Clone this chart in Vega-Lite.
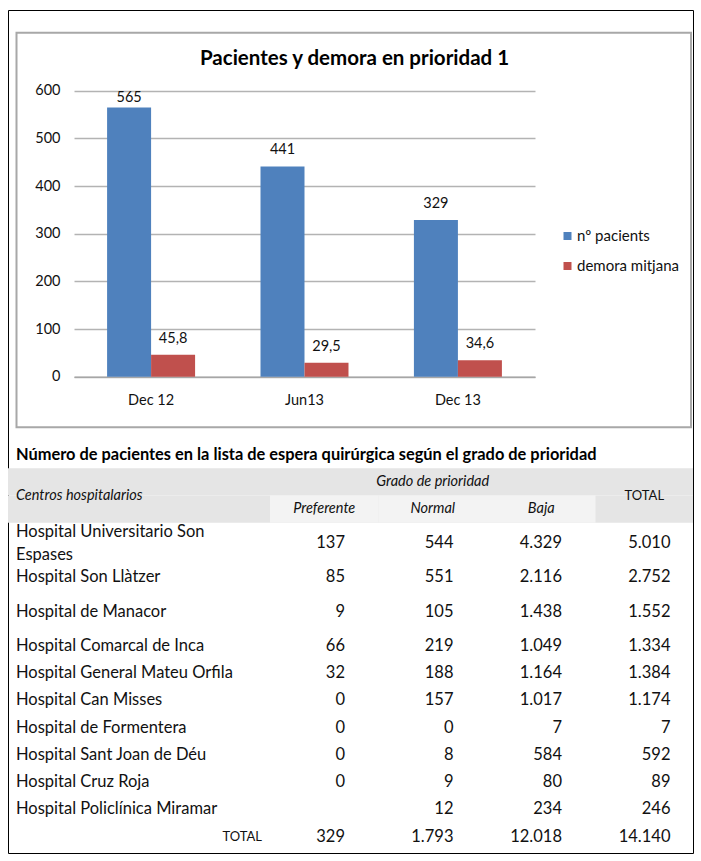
{
  "$schema": "https://vega.github.io/schema/vega-lite/v6.json",
  "width": 685,
  "height": 843,
  "autosize": {"type": "none"},
  "padding": {"left": 8, "top": 10, "right": 8, "bottom": 8},
  "background": "white",
  "config": {
    "view": {"stroke": "#000000", "strokeWidth": 1},
    "locale": {"number": {"decimal": ",", "thousands": ".", "grouping": [3], "currency": ["", " €"]}},
    "text": {"font": "Lato", "color": "#111111"}
  },
  "title": {
    "text": "Pacientes y demora en prioridad 1",
    "anchor": "middle",
    "frame": "group",
    "offset": -69,
    "baseline": "middle",
    "dx": 4,
    "font": "Lato",
    "fontSize": 20.5,
    "fontWeight": "bold",
    "color": "#000000"
  },
  "datasets": {
    "centros": [
      {"row": "r1", "centro": "Hospital Universitario Son\nEspases", "Preferente": 137, "Normal": 544, "Baja": 4329, "TOTAL": 5010},
      {"row": "r2", "centro": "Hospital Son Llàtzer", "Preferente": 85, "Normal": 551, "Baja": 2116, "TOTAL": 2752},
      {"row": "r3", "centro": "Hospital de Manacor", "Preferente": 9, "Normal": 105, "Baja": 1438, "TOTAL": 1552},
      {"row": "r4", "centro": "Hospital Comarcal de Inca", "Preferente": 66, "Normal": 219, "Baja": 1049, "TOTAL": 1334},
      {"row": "r5", "centro": "Hospital General Mateu Orfila", "Preferente": 32, "Normal": 188, "Baja": 1164, "TOTAL": 1384},
      {"row": "r6", "centro": "Hospital Can Misses", "Preferente": 0, "Normal": 157, "Baja": 1017, "TOTAL": 1174},
      {"row": "r7", "centro": "Hospital de Formentera", "Preferente": 0, "Normal": 0, "Baja": 7, "TOTAL": 7},
      {"row": "r8", "centro": "Hospital Sant Joan de Déu", "Preferente": 0, "Normal": 8, "Baja": 584, "TOTAL": 592},
      {"row": "r9", "centro": "Hospital Cruz Roja", "Preferente": 0, "Normal": 9, "Baja": 80, "TOTAL": 89},
      {"row": "r10", "centro": "Hospital Policlínica Miramar", "Preferente": null, "Normal": 12, "Baja": 234, "TOTAL": 246},
      {"row": "total", "centro": "TOTAL", "Preferente": 329, "Normal": 1793, "Baja": 12018, "TOTAL": 14140}
    ]
  },
  "resolve": {"scale": {"x": "independent", "y": "independent", "color": "independent"}, "axis": {"x": "independent", "y": "independent"}},
  "layer": [
    {
      "data": {"values": [{"frame": "chart"}]},
      "mark": {"type": "rect", "filled": false, "color": "#a8a8a8", "strokeWidth": 2},
      "encoding": {
        "x": {"datum": 0, "type": "quantitative", "scale": {"domain": [0, 1], "range": [8.5, 683], "nice": false, "zero": false}, "axis": null},
        "x2": {"datum": 1},
        "y": {"datum": 0, "type": "quantitative", "scale": {"domain": [0, 1], "range": [22.7, 417.3], "nice": false, "zero": false}, "axis": null},
        "y2": {"datum": 1}
      }
    },
    {
      "data": {"values": [
        {"period": "Dec 12", "series": "nº pacients", "value": 565},
        {"period": "Dec 12", "series": "demora mitjana", "value": 45.8},
        {"period": "Jun13", "series": "nº pacients", "value": 441},
        {"period": "Jun13", "series": "demora mitjana", "value": 29.5},
        {"period": "Dec 13", "series": "nº pacients", "value": 329},
        {"period": "Dec 13", "series": "demora mitjana", "value": 34.6}
      ]},
      "encoding": {
        "x": {
          "field": "period", "type": "nominal", "sort": ["Dec 12", "Jun13", "Dec 13"],
          "scale": {"type": "band", "domain": ["Dec 12", "Jun13", "Dec 13"], "range": [66, 527], "paddingInner": 0.4264, "paddingOuter": 0.2157},
          "axis": {"orient": "bottom", "offset": -476.3, "title": null, "domain": true, "domainColor": "#a6a6a6", "domainWidth": 1.5, "ticks": false, "tickSize": 0, "labelPadding": 17, "labelAngle": 0, "labelFont": "Lato", "labelFontSize": 14.5, "labelColor": "#111111", "grid": false}
        },
        "xOffset": {"field": "series", "type": "nominal", "sort": ["nº pacients", "demora mitjana"], "scale": {"domain": ["nº pacients", "demora mitjana"], "paddingInner": 0, "paddingOuter": 0}},
        "y": {
          "field": "value", "type": "quantitative",
          "scale": {"domain": [0, 600], "range": [366.7, 80.7], "nice": false, "zero": true},
          "axis": {"orient": "left", "offset": -66, "title": null, "values": [0, 100, 200, 300, 400, 500, 600], "domain": false, "ticks": false, "tickSize": 0, "labelPadding": 14, "grid": true, "gridColor": "#b3b3b3", "gridWidth": 1.5, "labelFont": "Lato", "labelFontSize": 14.5, "labelColor": "#111111"}
        }
      },
      "layer": [
        {
          "mark": {"type": "bar"},
          "encoding": {
            "color": {
              "field": "series", "type": "nominal",
              "scale": {"domain": ["nº pacients", "demora mitjana"], "range": ["#4F81BD", "#C0504D"]},
              "legend": {"orient": "none", "legendX": 552, "legendY": 218.5, "title": null, "symbolType": "square", "symbolSize": 64, "symbolStrokeWidth": 0, "labelFont": "Lato", "labelFontSize": 15, "labelColor": "#111111", "labelOffset": 2, "rowPadding": 14, "padding": 0}
            }
          }
        },
        {
          "transform": [{"filter": "datum.value != 565"}],
          "mark": {"type": "text", "dy": -16, "align": "center", "baseline": "middle", "font": "Lato", "fontSize": 14.5},
          "encoding": {"text": {"field": "value", "type": "quantitative", "format": "~g"}}
        },
        {
          "transform": [{"filter": "datum.value == 565"}],
          "mark": {"type": "text", "dy": -9.5, "align": "center", "baseline": "middle", "font": "Lato", "fontSize": 14.5},
          "encoding": {"text": {"field": "value", "type": "quantitative", "format": "~g"}}
        }
      ]
    },
    {
      "resolve": {"scale": {"x": "independent"}},
      "layer": [
        {
          "data": {"values": [{"line": "grado"}, {"line": "sub"}]},
          "mark": {"type": "rect", "color": "#e5e5e5"},
          "encoding": {
            "y": {"field": "line", "type": "nominal", "scale": {"type": "band", "domain": ["title", "grado", "sub", "r1", "r1b", "r2", "r3", "r4", "r5", "r6", "r7", "r8", "r9", "r10", "total"], "range": [430.9, 840.4], "paddingInner": 0, "paddingOuter": 0}, "axis": null}
          }
        },
        {
          "data": {"values": [{"line": "sub", "col": "Preferente"}, {"line": "sub", "col": "Normal"}, {"line": "sub", "col": "Baja"}]},
          "mark": {"type": "rect", "color": "#f3f3f3"},
          "encoding": {
            "x": {"field": "col", "type": "nominal", "scale": {"type": "band", "domain": ["Preferente", "Normal", "Baja", "TOTAL"], "range": [262, 696], "paddingInner": 0, "paddingOuter": 0}, "axis": null},
            "y": {"field": "line", "type": "nominal", "scale": {"type": "band", "domain": ["title", "grado", "sub", "r1", "r1b", "r2", "r3", "r4", "r5", "r6", "r7", "r8", "r9", "r10", "total"], "range": [430.9, 840.4], "paddingInner": 0, "paddingOuter": 0}, "axis": null}
          }
        },
        {
          "data": {"values": [
            {"line": "grado", "col": "Normal", "text": "Grado de prioridad"},
            {"line": "sub", "col": "Preferente", "text": "Preferente"},
            {"line": "sub", "col": "Normal", "text": "Normal"},
            {"line": "sub", "col": "Baja", "text": "Baja"}
          ]},
          "mark": {"type": "text", "align": "center", "baseline": "middle", "font": "Lato", "fontSize": 14.5, "fontStyle": "italic"},
          "encoding": {
            "x": {"field": "col", "type": "nominal", "bandPosition": 0.5, "scale": {"type": "band", "domain": ["Preferente", "Normal", "Baja", "TOTAL"], "range": [262, 696], "paddingInner": 0, "paddingOuter": 0}, "axis": null},
            "y": {"field": "line", "type": "nominal", "scale": {"type": "band", "domain": ["title", "grado", "sub", "r1", "r1b", "r2", "r3", "r4", "r5", "r6", "r7", "r8", "r9", "r10", "total"], "range": [430.9, 840.4], "paddingInner": 0, "paddingOuter": 0}, "axis": null},
            "text": {"field": "text"}
          }
        },
        {
          "data": {"values": [{"line": "grado", "col": "TOTAL", "text": "TOTAL"}]},
          "mark": {"type": "text", "align": "center", "baseline": "middle", "font": "Lato", "fontSize": 13},
          "encoding": {
            "x": {"field": "col", "type": "nominal", "bandPosition": 0.45, "scale": {"type": "band", "domain": ["Preferente", "Normal", "Baja", "TOTAL"], "range": [262, 696], "paddingInner": 0, "paddingOuter": 0}, "axis": null},
            "y": {"field": "line", "type": "nominal", "bandPosition": 1, "scale": {"type": "band", "domain": ["title", "grado", "sub", "r1", "r1b", "r2", "r3", "r4", "r5", "r6", "r7", "r8", "r9", "r10", "total"], "range": [430.9, 840.4], "paddingInner": 0, "paddingOuter": 0}, "axis": null},
            "text": {"field": "text"}
          }
        },
        {
          "data": {"values": [{"line": "grado", "col": "Centros hospitalarios", "text": "Centros hospitalarios"}]},
          "mark": {"type": "text", "align": "left", "baseline": "middle", "font": "Lato", "fontSize": 14.5, "fontStyle": "italic"},
          "encoding": {
            "x": {"field": "col", "type": "nominal", "bandPosition": 0, "scale": {"type": "band", "domain": ["Centros hospitalarios"], "range": [8, 254], "paddingInner": 0, "paddingOuter": 0}, "axis": null},
            "y": {"field": "line", "type": "nominal", "bandPosition": 1, "scale": {"type": "band", "domain": ["title", "grado", "sub", "r1", "r1b", "r2", "r3", "r4", "r5", "r6", "r7", "r8", "r9", "r10", "total"], "range": [430.9, 840.4], "paddingInner": 0, "paddingOuter": 0}, "axis": null},
            "text": {"field": "text"}
          }
        },
        {
          "data": {"values": [{"line": "title", "col": "Centros hospitalarios", "text": "Número de pacientes en la lista de espera quirúrgica según el grado de prioridad"}]},
          "mark": {"type": "text", "align": "left", "baseline": "middle", "font": "Lato", "fontSize": 16.4, "fontWeight": "bold", "color": "#000000"},
          "encoding": {
            "x": {"field": "col", "type": "nominal", "bandPosition": 0, "scale": {"type": "band", "domain": ["Centros hospitalarios"], "range": [8, 254], "paddingInner": 0, "paddingOuter": 0}, "axis": null},
            "y": {"field": "line", "type": "nominal", "scale": {"type": "band", "domain": ["title", "grado", "sub", "r1", "r1b", "r2", "r3", "r4", "r5", "r6", "r7", "r8", "r9", "r10", "total"], "range": [430.9, 840.4], "paddingInner": 0, "paddingOuter": 0}, "axis": null},
            "text": {"field": "text"}
          }
        },
        {
          "data": {"name": "centros"},
          "transform": [{"filter": "datum.row == 'r1'"}],
          "mark": {"type": "text", "align": "left", "baseline": "middle", "font": "Lato", "fontSize": 16.5, "lineBreak": "\n", "lineHeight": 23},
          "encoding": {
            "x": {"datum": "Centros hospitalarios", "type": "nominal", "bandPosition": 0, "scale": {"type": "band", "domain": ["Centros hospitalarios"], "range": [8, 254], "paddingInner": 0, "paddingOuter": 0}, "axis": null},
            "y": {"field": "row", "type": "nominal", "bandPosition": 0.34, "scale": {"type": "band", "domain": ["title", "grado", "sub", "r1", "r1b", "r2", "r3", "r4", "r5", "r6", "r7", "r8", "r9", "r10", "total"], "range": [430.9, 840.4], "paddingInner": 0, "paddingOuter": 0}, "axis": null},
            "text": {"field": "centro"}
          }
        },
        {
          "data": {"name": "centros"},
          "transform": [{"filter": "datum.row == 'r2'"}],
          "mark": {"type": "text", "align": "left", "baseline": "middle", "font": "Lato", "fontSize": 16.5},
          "encoding": {
            "x": {"datum": "Centros hospitalarios", "type": "nominal", "bandPosition": 0, "scale": {"type": "band", "domain": ["Centros hospitalarios"], "range": [8, 254], "paddingInner": 0, "paddingOuter": 0}, "axis": null},
            "y": {"field": "row", "type": "nominal", "bandPosition": 0, "scale": {"type": "band", "domain": ["title", "grado", "sub", "r1", "r1b", "r2", "r3", "r4", "r5", "r6", "r7", "r8", "r9", "r10", "total"], "range": [430.9, 840.4], "paddingInner": 0, "paddingOuter": 0}, "axis": null},
            "text": {"field": "centro"}
          }
        },
        {
          "data": {"name": "centros"},
          "transform": [{"filter": "datum.row == 'r3'"}],
          "mark": {"type": "text", "align": "left", "baseline": "middle", "font": "Lato", "fontSize": 16.5},
          "encoding": {
            "x": {"datum": "Centros hospitalarios", "type": "nominal", "bandPosition": 0, "scale": {"type": "band", "domain": ["Centros hospitalarios"], "range": [8, 254], "paddingInner": 0, "paddingOuter": 0}, "axis": null},
            "y": {"field": "row", "type": "nominal", "bandPosition": 0.25, "scale": {"type": "band", "domain": ["title", "grado", "sub", "r1", "r1b", "r2", "r3", "r4", "r5", "r6", "r7", "r8", "r9", "r10", "total"], "range": [430.9, 840.4], "paddingInner": 0, "paddingOuter": 0}, "axis": null},
            "text": {"field": "centro"}
          }
        },
        {
          "data": {"name": "centros"},
          "transform": [{"filter": "datum.row != 'r1' && datum.row != 'r2' && datum.row != 'r3' && datum.row != 'total'"}],
          "mark": {"type": "text", "align": "left", "baseline": "middle", "font": "Lato", "fontSize": 16.5},
          "encoding": {
            "x": {"datum": "Centros hospitalarios", "type": "nominal", "bandPosition": 0, "scale": {"type": "band", "domain": ["Centros hospitalarios"], "range": [8, 254], "paddingInner": 0, "paddingOuter": 0}, "axis": null},
            "y": {"field": "row", "type": "nominal", "scale": {"type": "band", "domain": ["title", "grado", "sub", "r1", "r1b", "r2", "r3", "r4", "r5", "r6", "r7", "r8", "r9", "r10", "total"], "range": [430.9, 840.4], "paddingInner": 0, "paddingOuter": 0}, "axis": null},
            "text": {"field": "centro"}
          }
        },
        {
          "data": {"name": "centros"},
          "transform": [{"filter": "datum.row == 'total'"}],
          "mark": {"type": "text", "align": "right", "baseline": "middle", "font": "Lato", "fontSize": 13},
          "encoding": {
            "x": {"datum": "Centros hospitalarios", "type": "nominal", "bandPosition": 1, "scale": {"type": "band", "domain": ["Centros hospitalarios"], "range": [8, 254], "paddingInner": 0, "paddingOuter": 0}, "axis": null},
            "y": {"field": "row", "type": "nominal", "scale": {"type": "band", "domain": ["title", "grado", "sub", "r1", "r1b", "r2", "r3", "r4", "r5", "r6", "r7", "r8", "r9", "r10", "total"], "range": [430.9, 840.4], "paddingInner": 0, "paddingOuter": 0}, "axis": null},
            "text": {"field": "centro"}
          }
        },
        {
          "data": {"name": "centros"},
          "transform": [
            {"fold": ["Preferente", "Normal", "Baja", "TOTAL"], "as": ["col", "value"]},
            {"filter": "datum.value != null && datum.row == 'r1'"}
          ],
          "mark": {"type": "text", "align": "right", "baseline": "middle", "font": "Lato", "fontSize": 16.5},
          "encoding": {
            "x": {"field": "col", "type": "nominal", "bandPosition": 0.691, "scale": {"type": "band", "domain": ["Preferente", "Normal", "Baja", "TOTAL"], "range": [262, 696], "paddingInner": 0, "paddingOuter": 0}, "axis": null},
            "y": {"field": "row", "type": "nominal", "bandPosition": 0.75, "scale": {"type": "band", "domain": ["title", "grado", "sub", "r1", "r1b", "r2", "r3", "r4", "r5", "r6", "r7", "r8", "r9", "r10", "total"], "range": [430.9, 840.4], "paddingInner": 0, "paddingOuter": 0}, "axis": null},
            "text": {"field": "value", "type": "quantitative", "format": ",d"}
          }
        },
        {
          "data": {"name": "centros"},
          "transform": [
            {"fold": ["Preferente", "Normal", "Baja", "TOTAL"], "as": ["col", "value"]},
            {"filter": "datum.value != null && datum.row == 'r2'"}
          ],
          "mark": {"type": "text", "align": "right", "baseline": "middle", "font": "Lato", "fontSize": 16.5},
          "encoding": {
            "x": {"field": "col", "type": "nominal", "bandPosition": 0.691, "scale": {"type": "band", "domain": ["Preferente", "Normal", "Baja", "TOTAL"], "range": [262, 696], "paddingInner": 0, "paddingOuter": 0}, "axis": null},
            "y": {"field": "row", "type": "nominal", "bandPosition": 0, "scale": {"type": "band", "domain": ["title", "grado", "sub", "r1", "r1b", "r2", "r3", "r4", "r5", "r6", "r7", "r8", "r9", "r10", "total"], "range": [430.9, 840.4], "paddingInner": 0, "paddingOuter": 0}, "axis": null},
            "text": {"field": "value", "type": "quantitative", "format": ",d"}
          }
        },
        {
          "data": {"name": "centros"},
          "transform": [
            {"fold": ["Preferente", "Normal", "Baja", "TOTAL"], "as": ["col", "value"]},
            {"filter": "datum.value != null && datum.row == 'r3'"}
          ],
          "mark": {"type": "text", "align": "right", "baseline": "middle", "font": "Lato", "fontSize": 16.5},
          "encoding": {
            "x": {"field": "col", "type": "nominal", "bandPosition": 0.691, "scale": {"type": "band", "domain": ["Preferente", "Normal", "Baja", "TOTAL"], "range": [262, 696], "paddingInner": 0, "paddingOuter": 0}, "axis": null},
            "y": {"field": "row", "type": "nominal", "bandPosition": 0.25, "scale": {"type": "band", "domain": ["title", "grado", "sub", "r1", "r1b", "r2", "r3", "r4", "r5", "r6", "r7", "r8", "r9", "r10", "total"], "range": [430.9, 840.4], "paddingInner": 0, "paddingOuter": 0}, "axis": null},
            "text": {"field": "value", "type": "quantitative", "format": ",d"}
          }
        },
        {
          "data": {"name": "centros"},
          "transform": [
            {"fold": ["Preferente", "Normal", "Baja", "TOTAL"], "as": ["col", "value"]},
            {"filter": "datum.value != null && datum.row != 'r1' && datum.row != 'r2' && datum.row != 'r3'"}
          ],
          "mark": {"type": "text", "align": "right", "baseline": "middle", "font": "Lato", "fontSize": 16.5},
          "encoding": {
            "x": {"field": "col", "type": "nominal", "bandPosition": 0.691, "scale": {"type": "band", "domain": ["Preferente", "Normal", "Baja", "TOTAL"], "range": [262, 696], "paddingInner": 0, "paddingOuter": 0}, "axis": null},
            "y": {"field": "row", "type": "nominal", "scale": {"type": "band", "domain": ["title", "grado", "sub", "r1", "r1b", "r2", "r3", "r4", "r5", "r6", "r7", "r8", "r9", "r10", "total"], "range": [430.9, 840.4], "paddingInner": 0, "paddingOuter": 0}, "axis": null},
            "text": {"field": "value", "type": "quantitative", "format": ",d"}
          }
        }
      ]
    }
  ]
}
